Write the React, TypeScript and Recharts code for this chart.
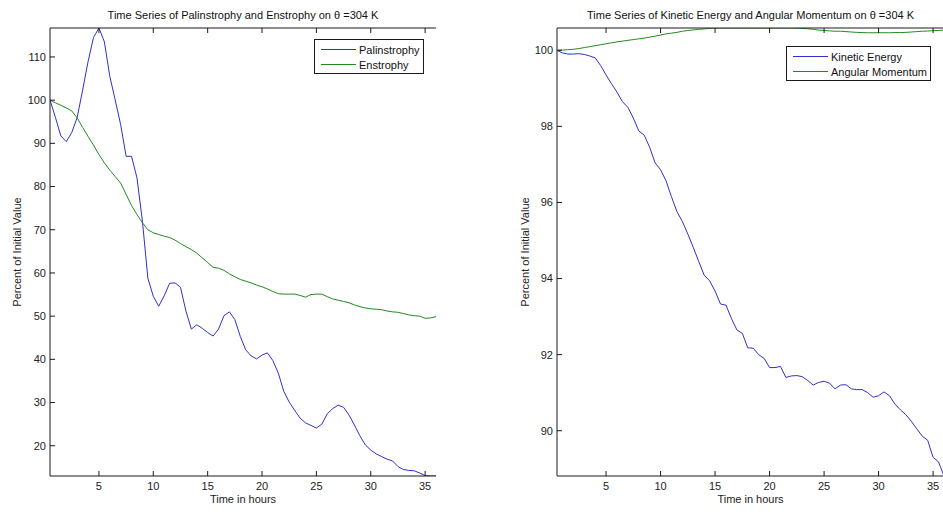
import React from 'react';
import { LineChart, Line, XAxis, YAxis, Legend } from 'recharts';

// time axis, half-hour steps
const hours = [
  0.5, 1, 1.5, 2, 2.5, 3, 3.5, 4, 4.5, 5, 5.5, 6, 6.5, 7, 7.5, 8, 8.5, 9, 9.5, 10,
  10.5, 11, 11.5, 12, 12.5, 13, 13.5, 14, 14.5, 15, 15.5, 16, 16.5, 17, 17.5, 18, 18.5, 19, 19.5, 20,
  20.5, 21, 21.5, 22, 22.5, 23, 23.5, 24, 24.5, 25, 25.5, 26, 26.5, 27, 27.5, 28, 28.5, 29, 29.5, 30,
  30.5, 31, 31.5, 32, 32.5, 33, 33.5, 34, 34.5, 35, 35.5, 36,
];

const palinstrophy = [
  100, 96, 91.7, 90.4, 92.5, 96, 102.3, 108.9, 114.5, 116.7,
  113.5, 105.5, 100, 94.3, 87, 87, 82, 72, 58.8, 54.6,
  52.3, 54.7, 57.6, 57.7, 56.7, 51.2, 47, 48, 47.2, 46.2,
  45.4, 47, 50.1, 51, 49.2, 45.3, 42.2, 40.8, 40.1, 41,
  41.5, 39.7, 36.8, 32.6, 30.1, 28.2, 26.4, 25.3, 24.7, 24.1,
  25, 27.4, 28.6, 29.4, 28.9, 27.1, 24.8, 22.3, 20.2, 19,
  18.1, 17.5, 16.9, 16.5, 15.2, 14.5, 14.3, 14.2, 13.7, 13.1,
  13, 13,
];

const enstrophy = [
  100, 99.4, 98.8, 98.2, 97.5, 95.9, 93.7, 91.6, 89.6, 87.4,
  85.5, 83.8, 82.3, 80.8, 78.2, 75.6, 73.5, 71.6, 70, 69.3,
  68.9, 68.5, 68.2, 67.6, 66.8, 66.1, 65.4, 64.6, 63.5, 62.4,
  61.3, 61.1, 60.6, 59.8, 59.1, 58.5, 58.1, 57.7, 57.2, 56.8,
  56.3, 55.7, 55.2, 55.1, 55.1, 55.1, 54.8, 54.4, 55, 55.1,
  55.1, 54.5, 54, 53.7, 53.4, 53.1, 52.6, 52.2, 51.9, 51.7,
  51.6, 51.5, 51.2, 51, 50.9, 50.6, 50.3, 50.1, 50, 49.5,
  49.6, 49.9,
];

const kineticEnergy = [
  100, 99.93, 99.9, 99.9, 99.91, 99.89, 99.85, 99.8, 99.6, 99.35,
  99.12, 98.9, 98.65, 98.5, 98.22, 97.88, 97.77, 97.45, 97.04, 96.86,
  96.57, 96.15, 95.76, 95.5, 95.17, 94.82, 94.45, 94.09, 93.94, 93.67,
  93.33, 93.3, 92.95, 92.65, 92.56, 92.18, 92.17, 92, 91.9, 91.66,
  91.66, 91.69, 91.4, 91.44, 91.45, 91.42, 91.32, 91.2, 91.27, 91.3,
  91.25, 91.1, 91.2, 91.21, 91.1, 91.08, 91.08, 91, 90.88, 90.92,
  91.02, 90.92, 90.7, 90.55, 90.42, 90.25, 90.05, 89.86, 89.75, 89.3,
  89.18, 88.81,
];

const angularMomentum = [
  100, 100.005, 100.015, 100.025, 100.045, 100.07, 100.095, 100.12, 100.145, 100.17,
  100.195, 100.22, 100.24, 100.26, 100.28, 100.3, 100.32, 100.345, 100.37, 100.4,
  100.43, 100.45, 100.47, 100.5, 100.52, 100.535, 100.55, 100.56, 100.575, 100.585,
  100.585, 100.585, 100.585, 100.585, 100.585, 100.585, 100.585, 100.585, 100.585, 100.585,
  100.585, 100.585, 100.585, 100.585, 100.58, 100.575, 100.565, 100.55, 100.53, 100.52,
  100.51, 100.5, 100.5, 100.49, 100.48, 100.47, 100.465, 100.46, 100.46, 100.46,
  100.46, 100.46, 100.465, 100.465, 100.47, 100.48, 100.49, 100.5, 100.505, 100.515,
  100.52, 100.53,
];

const hourTicks = [5, 10, 15, 20, 25, 30, 35];
const vorticityTicks = [20, 30, 40, 50, 60, 70, 80, 90, 100, 110];
const energyTicks = [90, 92, 94, 96, 98, 100];

const vorticityNames = ['Palinstrophy', 'Enstrophy'];
const energyNames = ['Kinetic Energy', 'Angular Momentum'];

const vorticityRows = hours.map((t, i) => ({ t, palinstrophy: palinstrophy[i], enstrophy: enstrophy[i] }));
const energyRows = hours.map((t, i) => ({ t, kinetic: kineticEnergy[i], angular: angularMomentum[i] }));

const FONT = '"Liberation Sans", Arial, sans-serif';
const BLUE = '#3030cc';
const GREEN = '#208a20';
const AXIS = '#1a1a1a';
const tickStyle = { fontSize: 11, fill: '#222', fontFamily: FONT };
const labelStyle = { fontSize: 11, fill: '#222', fontFamily: FONT };
const blank = () => '';

// boxed legend, entries kept in plotting order
const legendBox = (width: number, order: string[]) => (props: any) => {
  const items = [...(props.payload || [])].sort((a: any, b: any) => order.indexOf(a.value) - order.indexOf(b.value));
  return (
    <div style={{ width, height: 35, boxSizing: 'border-box', border: `1px solid ${AXIS}`, background: '#fff',
      padding: '2px 0 0 6px', fontFamily: FONT, fontSize: 11, color: '#111' }}>
      {items.map((p: any) => (
        <div key={p.value} style={{ display: 'flex', alignItems: 'center', height: 15 }}>
          <div style={{ width: 35, borderTop: `1px solid ${p.color}`, marginRight: 3 }} />
          <span>{p.value}</span>
        </div>
      ))}
    </div>
  );
};

const Title = ({ text, left, width }: { text: string; left: number; width: number }) => (
  <div style={{ position: 'absolute', left, width, top: 8, textAlign: 'center', fontFamily: FONT,
    fontSize: 11, lineHeight: '14px', color: '#111', whiteSpace: 'nowrap' }}>{text}</div>
);

export default function App() {
  return (
    <div style={{ position: 'absolute', left: 0, top: 0, width: 943, height: 512, overflow: 'hidden', background: '#fff' }}>
      <div style={{ position: 'absolute', left: 0, top: 0 }}>
        <LineChart width={470} height={512} data={vorticityRows} margin={{ top: 27, right: 34, bottom: 6, left: 0 }}>
          <XAxis xAxisId="b" dataKey="t" type="number" domain={[0.5, 36]} ticks={hourTicks} allowDataOverflow
            height={30} tickSize={-5} tickMargin={11} tick={tickStyle} stroke={AXIS}
            label={{ value: 'Time in hours', position: 'insideBottom', offset: 3, style: labelStyle }} />
          <XAxis xAxisId="t" orientation="top" dataKey="t" type="number" domain={[0.5, 36]} ticks={hourTicks} allowDataOverflow
            height={1} tickSize={-5} tickFormatter={blank} stroke={AXIS} />
          <YAxis yAxisId="l" type="number" domain={[13, 116.7]} ticks={vorticityTicks} allowDataOverflow
            width={50} tickSize={-5} tickMargin={9} tick={tickStyle} stroke={AXIS}
            label={{ value: 'Percent of Initial Value', angle: -90, position: 'insideLeft', offset: 17,
              style: { ...labelStyle, textAnchor: 'middle' } }} />
          <YAxis yAxisId="r" orientation="right" type="number" domain={[13, 116.7]} ticks={vorticityTicks} allowDataOverflow
            width={0} tickSize={-5} tickFormatter={blank} stroke={AXIS} />
          <Legend layout="vertical" align="center" verticalAlign="middle" content={legendBox(110, vorticityNames)}
            wrapperStyle={{ top: 39, left: 314, width: 110 }} />
          <Line xAxisId="b" yAxisId="l" type="linear" dataKey="palinstrophy" name="Palinstrophy" stroke={BLUE}
            strokeWidth={1} dot={false} isAnimationActive={false} />
          <Line xAxisId="b" yAxisId="l" type="linear" dataKey="enstrophy" name="Enstrophy" stroke={GREEN}
            strokeWidth={1} dot={false} isAnimationActive={false} />
        </LineChart>
      </div>
      <Title text="Time Series of Palinstrophy and Enstrophy on θ =304 K" left={50} width={386} />

      <div style={{ position: 'absolute', left: 500, top: 0 }}>
        <LineChart width={444} height={512} data={energyRows} margin={{ top: 27, right: 0, bottom: 6, left: 0 }}>
          <XAxis xAxisId="b" dataKey="t" type="number" domain={[0.5, 36]} ticks={hourTicks} allowDataOverflow
            height={30} tickSize={-5} tickMargin={11} tick={tickStyle} stroke={AXIS}
            label={{ value: 'Time in hours', position: 'insideBottom', offset: 3, style: labelStyle }} />
          <XAxis xAxisId="t" orientation="top" dataKey="t" type="number" domain={[0.5, 36]} ticks={hourTicks} allowDataOverflow
            height={1} tickSize={-5} tickFormatter={blank} stroke={AXIS} />
          <YAxis yAxisId="l" type="number" domain={[88.81, 100.585]} ticks={energyTicks} allowDataOverflow
            width={57} tickSize={-5} tickMargin={9} tick={tickStyle} stroke={AXIS}
            label={{ value: 'Percent of Initial Value', angle: -90, position: 'insideLeft', offset: 25,
              style: { ...labelStyle, textAnchor: 'middle' } }} />
          <YAxis yAxisId="r" orientation="right" type="number" domain={[88.81, 100.585]} ticks={energyTicks} allowDataOverflow
            width={0} tickSize={-5} tickFormatter={blank} stroke={AXIS} />
          <Legend layout="vertical" align="center" verticalAlign="middle" content={legendBox(145, energyNames)}
            wrapperStyle={{ top: 46, left: 286, width: 145 }} />
          <Line xAxisId="b" yAxisId="l" type="linear" dataKey="kinetic" name="Kinetic Energy" stroke={BLUE}
            strokeWidth={1} dot={false} isAnimationActive={false} />
          <Line xAxisId="b" yAxisId="l" type="linear" dataKey="angular" name="Angular Momentum" stroke={GREEN}
            strokeWidth={1} dot={false} isAnimationActive={false} />
        </LineChart>
      </div>
      <Title text="Time Series of Kinetic Energy and Angular Momentum on θ =304 K" left={557} width={387} />
    </div>
  );
}
